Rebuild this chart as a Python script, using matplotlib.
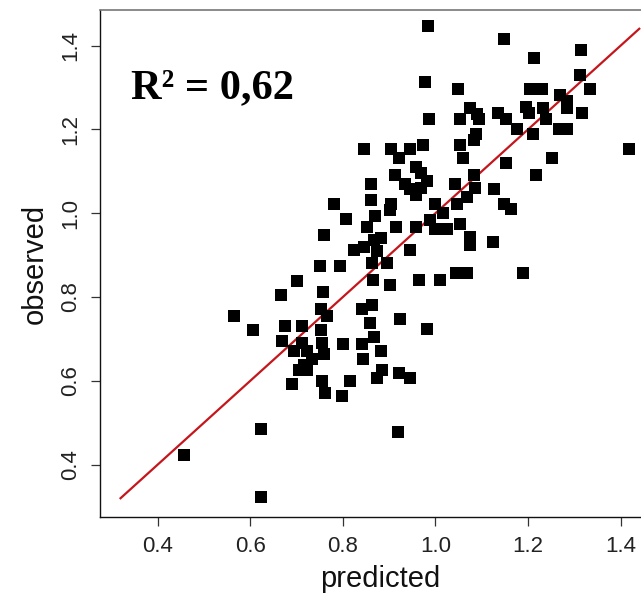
import numpy as np
import matplotlib.pyplot as plt

# predicted vs observed values
predicted = [0.456, 0.623, 0.623, 0.565, 0.606, 0.666, 0.700, 0.750, 0.793, 0.757,
             0.753, 0.765, 0.842, 0.675, 0.712, 0.753, 0.669, 0.712, 0.756, 0.800,
             0.842, 0.695, 0.722, 0.734, 0.759, 0.844, 0.716, 0.706, 0.722, 0.690,
             0.756, 0.761, 0.815, 0.799, 0.781, 0.806, 0.759, 0.824, 0.846, 0.983,
             1.147, 0.977, 1.049, 1.075, 1.090, 1.093, 1.134, 0.986, 1.052, 1.088,
             1.084, 0.905, 0.945, 0.973, 1.054, 0.921, 1.059, 0.959, 0.968, 0.982,
             0.912, 0.935, 0.945, 0.957, 0.968, 1.083, 1.086, 1.043, 1.126, 0.860,
             0.860, 0.905, 0.902, 0.998, 1.047, 1.067, 0.869, 1.017, 0.853, 0.914,
             0.957, 0.989, 1.000, 1.025, 1.052, 1.075, 1.075, 1.124, 0.882, 0.867,
             0.846, 0.874, 0.864, 0.945, 0.896, 1.044, 1.068, 0.865, 0.902, 0.964,
             1.009, 0.864, 0.858, 0.923, 0.981, 0.867, 0.883, 0.885, 0.874, 0.921,
             0.946, 0.919, 1.190, 1.147, 1.163, 1.216, 1.252, 1.153, 1.417, 1.177,
             1.211, 1.266, 1.284, 1.153, 1.196, 1.201, 1.232, 1.239, 1.316, 1.269,
             1.284, 1.285, 1.205, 1.230, 1.333, 1.313, 1.314, 1.213]
observed = [0.424, 0.322, 0.486, 0.755, 0.722, 0.805, 0.839, 0.873, 0.873, 0.813,
            0.771, 0.755, 0.771, 0.730, 0.730, 0.722, 0.696, 0.691, 0.691, 0.688,
            0.688, 0.671, 0.672, 0.653, 0.663, 0.653, 0.639, 0.627, 0.627, 0.592,
            0.600, 0.572, 0.600, 0.564, 1.022, 0.985, 0.948, 0.913, 1.153, 1.447,
            1.416, 1.313, 1.296, 1.252, 1.236, 1.224, 1.238, 1.225, 1.225, 1.188,
            1.174, 1.153, 1.153, 1.163, 1.163, 1.132, 1.132, 1.111, 1.096, 1.078,
            1.090, 1.069, 1.057, 1.043, 1.060, 1.090, 1.060, 1.069, 1.058, 1.069,
            1.031, 1.021, 1.007, 1.022, 1.022, 1.039, 0.993, 1.001, 0.967, 0.966,
            0.966, 0.983, 0.963, 0.963, 0.975, 0.943, 0.923, 0.931, 0.942, 0.935,
            0.919, 0.911, 0.882, 0.913, 0.882, 0.858, 0.858, 0.841, 0.829, 0.841,
            0.841, 0.781, 0.739, 0.747, 0.723, 0.704, 0.671, 0.627, 0.608, 0.618,
            0.608, 0.477, 0.857, 1.023, 1.011, 1.090, 1.132, 1.120, 1.153, 1.201,
            1.188, 1.201, 1.201, 1.225, 1.254, 1.238, 1.252, 1.225, 1.238, 1.282,
            1.268, 1.252, 1.296, 1.296, 1.296, 1.330, 1.390, 1.370]
r_squared = "0,62"
ref_line = [0.32, 1.44]
x_ticks = [0.4, 0.6, 0.8, 1.0, 1.2, 1.4]
y_ticks = [0.4, 0.6, 0.8, 1.0, 1.2, 1.4]

plt.rcParams['font.family'] = ['Liberation Sans', 'DejaVu Sans']

fig = plt.figure(figsize=(6.41, 5.95), dpi=100)
ax = fig.add_axes([99.8 / 641, 78 / 595, 560.2 / 641, 507 / 595])

# 4% padding around the fixed range, like R's default axis style
pad = (ref_line[1] - ref_line[0]) * 0.04
ax.set_xlim(ref_line[0] - pad, ref_line[1] + pad)
ax.set_ylim(ref_line[0] - pad, ref_line[1] + pad)

ax.plot(ref_line, ref_line, color='#c4161c', lw=1.6, zorder=2)
ax.plot(predicted, observed, linestyle='none', marker='s', markersize=8.2,
        markerfacecolor='black', markeredgewidth=0, zorder=3)

ax.text(0.056, 0.826, "R² = " + r_squared, transform=ax.transAxes,
        family=['Liberation Serif', 'DejaVu Serif'], fontweight='bold',
        fontsize=30.5, va='baseline', ha='left')

ax.set_xticks(x_ticks)
ax.set_yticks(y_ticks)
ax.set_xticklabels([f"{t:.1f}" for t in x_ticks])
ax.set_yticklabels([f"{t:.1f}" for t in y_ticks], rotation=90, va='center')
ax.tick_params(axis='both', direction='out', length=6.5, width=0.9,
               color='#333333', labelsize=16, labelcolor='#222222')
ax.tick_params(axis='x', pad=7)
ax.tick_params(axis='y', pad=7)

for side in ['left', 'bottom', 'right']:
    ax.spines[side].set_linewidth(1.0)
    ax.spines[side].set_color('#111111')
ax.spines['top'].set_color('#777777')
ax.spines['top'].set_linewidth(1.2)

ax.set_xlabel('predicted', fontsize=21, labelpad=6, color='#111111')
ax.set_ylabel('observed', fontsize=21, labelpad=8, color='#111111')

fig.savefig('out.png', dpi=100)
